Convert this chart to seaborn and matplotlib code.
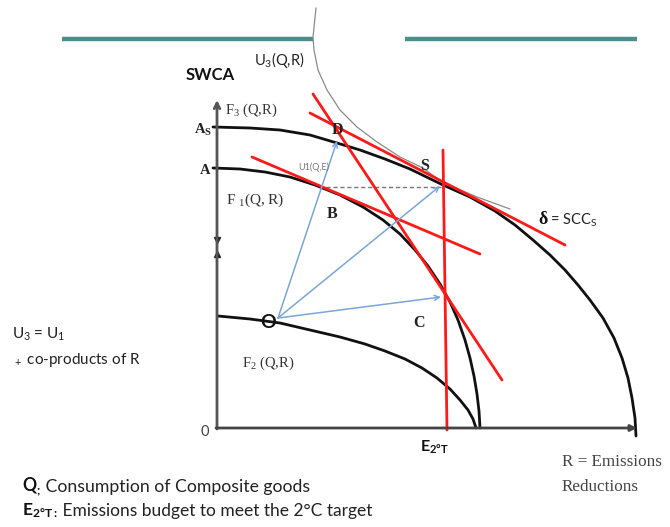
import matplotlib
matplotlib.use("Agg")
import matplotlib.pyplot as plt
import seaborn as sns
import pandas as pd

# ---- curve data (diagram coordinates; y grows downward) ----
f3_x = [213, 250, 280, 310, 337, 360, 385, 410, 443, 470, 495, 515, 533, 550, 565, 578, 590, 603, 614, 622, 628, 632, 635, 636]
f3_y = [127, 128, 130, 135, 143, 150, 159, 169, 185, 197, 211, 225, 240, 255, 270, 285, 300, 318, 338, 358, 378, 398, 418, 436]

f1_x = [213, 240, 265, 290, 315, 340, 363, 383, 400, 415, 428, 440, 450, 458, 465, 470, 474, 477, 479, 480]
f1_y = [168, 169, 172, 177, 185, 195, 207, 220, 234, 250, 266, 284, 302, 320, 340, 358, 376, 394, 411, 428]

f2_x = [218, 250, 280, 310, 340, 365, 385, 405, 422, 437, 450, 460, 468, 473, 476]
f2_y = [316, 319, 323, 330, 337, 344, 351, 359, 368, 378, 389, 400, 410, 419, 428]

u3_x = [316, 313, 314, 318, 327, 340, 357, 377, 400, 423, 442, 477, 510]
u3_y = [8, 37, 50, 70, 90, 110, 127, 142, 157, 168, 182, 197, 209]

red_lines = {
    "delta": ([310, 565], [113, 245]),
    "steep": ([313, 502], [94, 380]),
    "tangentB": ([252, 480], [157, 254]),
    "budget": ([443, 447], [150, 430]),
}

point_O = (278, 318)
arrow_targets = {"D": (337, 141), "S": (440, 186), "C": (441, 297)}
dashed_x = [326, 441]
dashed_y = [187, 187]

teal_segments = [([62, 313], [39, 39]), ([405, 637], [39, 39])]

fig = plt.figure(figsize=(6.7, 5.27), dpi=100)
sns.set_theme(style="white")
ax = fig.add_axes([0, 0, 1, 1])
ax.set_xlim(0, 670)
ax.set_ylim(527, 0)
ax.axis("off")

SERIF = ["Liberation Serif", "DejaVu Serif"]
SANS = ["Lato", "DejaVu Sans"]

# teal header lines
for xs, ys in teal_segments:
    ax.plot(xs, ys, color="#4b8e8d", lw=3.2, solid_capstyle="butt")

# axes arrows
ax.annotate("", xy=(217, 100), xytext=(217, 429),
            arrowprops=dict(arrowstyle="->", color="#555555", lw=2, shrinkA=0, shrinkB=0,
                            mutation_scale=10))
ax.annotate("", xy=(637, 428), xytext=(216, 428),
            arrowprops=dict(arrowstyle="-|>", color="#444444", lw=2, shrinkA=0, shrinkB=0,
                            mutation_scale=9))
ax.plot([217], [240], marker="v", color="#222222", ms=4)
ax.plot([217], [254], marker="^", color="#222222", ms=4)

# frontier curves
for xs, ys in [(f3_x, f3_y), (f1_x, f1_y), (f2_x, f2_y)]:
    sns.lineplot(x=xs, y=ys, sort=False, estimator=None, color="#111111", lw=2, ax=ax)

# U3 indifference curve
sns.lineplot(x=u3_x, y=u3_y, sort=False, estimator=None, color="#8a8a8a", lw=0.9, ax=ax)

# dashed line
ax.plot(dashed_x, dashed_y, color="#777777", lw=1, ls=(0, (3, 2)))

# red lines
for name, (xs, ys) in red_lines.items():
    sns.lineplot(x=xs, y=ys, sort=False, estimator=None, color="#ff1a1a", lw=2, ax=ax)

# blue arrows
for k, (tx, ty) in arrow_targets.items():
    ax.annotate("", xy=(tx, ty), xytext=point_O,
                arrowprops=dict(arrowstyle="->", color="#7aa6d9", lw=1.1,
                                shrinkA=0, shrinkB=0, mutation_scale=9))

# ---- labels ----
def t(x, y, s, fam=SERIF, size=10, weight="normal", color="#222222", ha="left", va="center"):
    return ax.text(x, y, s, family=fam, fontsize=size, fontweight=weight, color=color, ha=ha, va=va)

t(186, 75, "SWCA", SANS, 12, "bold", "#111111")
t(254, 60, r"U$\mathregular{_3}$(Q,R)", SANS, 10.5, color="#222222")
t(225, 110, r"F$\mathregular{_3}$ (Q,R)", SERIF, 10.5, color="#333333")
t(194, 130, r"A$\mathregular{_S}$", SERIF, 10.5, "bold")
t(200, 171, "A", SERIF, 10.5, "bold")
t(226, 200, r"F $\mathregular{_1}$(Q, R)", SERIF, 11, color="#333333")
t(298, 167, "U1(Q,E)", SANS, 6.5, color="#777777")
t(337, 130, "D", SERIF, 11.5, "bold", ha="center")
t(425, 166, "S", SERIF, 11.5, "bold", ha="center")
t(332, 214, "B", SERIF, 11.5, "bold", ha="center")
t(419, 323, "C", SERIF, 11.5, "bold", ha="center")
t(268, 323, "O", SANS, 14, "bold", "#111111", ha="center")
t(242, 363, r"F$\mathregular{_2}$ (Q,R)", SERIF, 10.5, color="#333333")
t(205, 432, "0", SANS, 10.5, color="#444444", ha="center")
d = t(538, 220, "δ", SERIF, 13, "bold", "#111111")
ax.annotate(r" = SCC$\mathregular{_S}$", xy=(1, 0.5), xycoords=d, va="center", ha="left",
            family=SANS, fontsize=10.5, color="#222222")
t(12, 334, r"U$\mathregular{_3}$ = U$\mathregular{_1}$", SANS, 11)
t(12, 360, r"$\mathregular{_+}$ co-products of R", SANS, 11)
t(434, 447, r"E$\mathregular{_{2°T}}$", SANS, 11.5, "bold", "#111111", ha="center")
t(562, 462, "R = Emissions", SERIF, 12.3, color="#444444")
t(562, 487, "Reductions", SERIF, 12.3, color="#444444")

q = t(22, 487, r"Q$\mathregular{_;}$", SANS, 12.7, "bold", "#111111")
ax.annotate(" Consumption of Composite goods", xy=(1, 0.5), xycoords=q, va="center", ha="left",
            family=SANS, fontsize=12.7, color="#222222")
e = t(22, 511, r"E$\mathregular{_{2°T:}}$", SANS, 12.5, "bold", "#111111")
ax.annotate(" Emissions budget to meet the 2°C target", xy=(1, 0.5), xycoords=e, va="center",
            ha="left", family=SANS, fontsize=12.5, color="#222222")

fig.savefig("out.png", dpi=100)
